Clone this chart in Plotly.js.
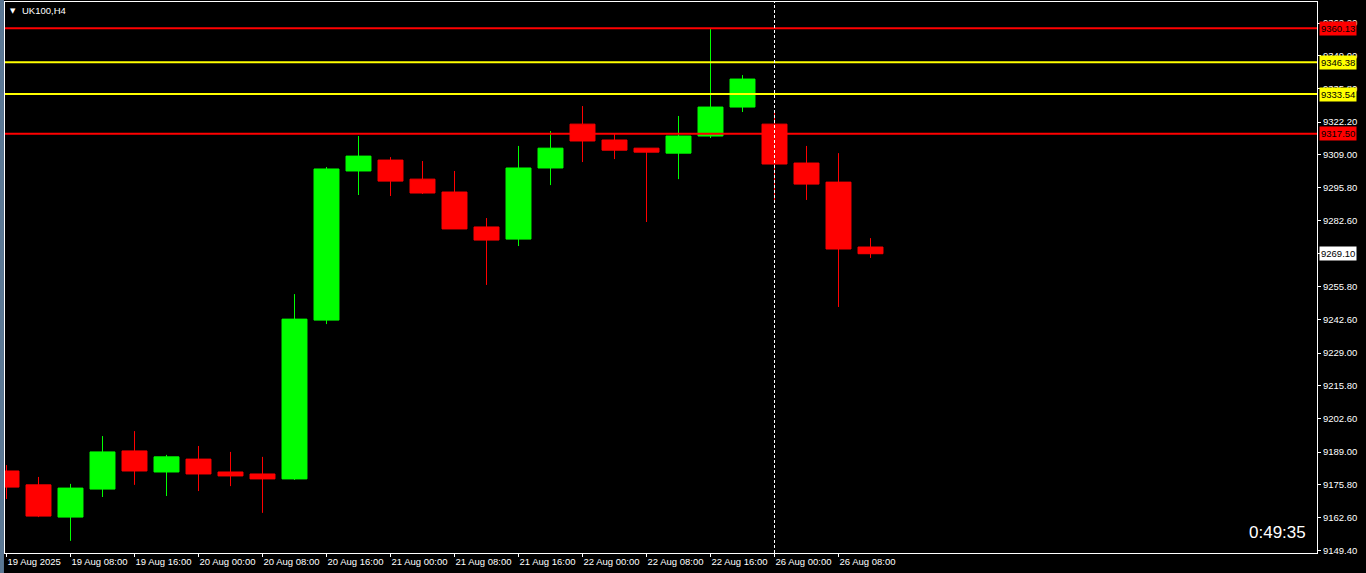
<!DOCTYPE html>
<html>
<head>
<meta charset="utf-8">
<script src="https://cdn.plot.ly/plotly-3.0.1.min.js"></script>
<style>
html,body{margin:0;padding:0;background:#000;}
#chart{width:1366px;height:573px;}
</style>
</head>
<body>
<div id="chart"></div>
<script>
// ---- data ----
var symbol = "UK100,H4";
var countdown = "0:49:35";
var times = [
  "19 Aug 00:00","19 Aug 04:00","19 Aug 08:00","19 Aug 12:00","19 Aug 16:00","19 Aug 20:00",
  "20 Aug 00:00","20 Aug 04:00","20 Aug 08:00","20 Aug 12:00","20 Aug 16:00","20 Aug 20:00",
  "21 Aug 00:00","21 Aug 04:00","21 Aug 08:00","21 Aug 12:00","21 Aug 16:00","21 Aug 20:00",
  "22 Aug 00:00","22 Aug 04:00","22 Aug 08:00","22 Aug 12:00","22 Aug 16:00","22 Aug 20:00",
  "26 Aug 00:00","26 Aug 04:00","26 Aug 08:00","26 Aug 12:00"
];
var open  = [9181.4,9175.8,9162.8,9174.1,9189.5,9181.0,9186.2,9181.0,9180.2,9178.2,9242.3,9302.5,9306.9,9299.2,9294.0,9279.9,9275.0,9303.7,9321.4,9315.0,9311.7,9309.7,9316.6,9328.3,9321.4,9305.7,9298.0,9271.8];
var high  = [9183.8,9179.0,9176.2,9195.5,9197.5,9187.9,9191.5,9189.1,9187.1,9252.8,9304.1,9316.6,9308.1,9306.5,9302.5,9283.5,9312.6,9318.6,9328.7,9317.8,9311.7,9324.7,9360.13,9341.2,9325.9,9312.6,9309.7,9275.4];
var low   = [9170.1,9162.8,9153.2,9170.9,9175.8,9171.3,9173.3,9175.3,9164.5,9177.8,9240.7,9292.8,9292.4,9293.2,9279.1,9256.5,9272.2,9296.8,9306.1,9307.3,9281.9,9299.2,9315.8,9326.3,9289.6,9290.8,9247.6,9267.4];
var close = [9174.9,9163.2,9174.5,9189.1,9181.4,9187.1,9180.2,9179.4,9178.2,9242.7,9303.3,9308.5,9298.4,9293.6,9279.1,9274.6,9303.7,9311.7,9314.6,9310.9,9310.1,9316.6,9328.3,9339.6,9305.3,9297.2,9271.0,9269.1];
var xTickLabels = ["19 Aug 2025","19 Aug 08:00","19 Aug 16:00","20 Aug 00:00","20 Aug 08:00","20 Aug 16:00","21 Aug 00:00","21 Aug 08:00","21 Aug 16:00","22 Aug 00:00","22 Aug 08:00","22 Aug 16:00","26 Aug 00:00","26 Aug 08:00"];
var yTicks = [9149.4,9162.6,9175.8,9189.0,9202.6,9215.8,9229.0,9242.6,9255.8,9269.0,9282.6,9295.8,9309.0,9322.2,9335.8,9349.0,9362.2];
var levelPrices = [9360.13,9346.38,9333.54,9317.50];
var levelKinds  = ["red","yellow","yellow","red"];
var separatorTime = "26 Aug 00:00";

// ---- build ----
var xs = times.map(function(t,i){return i;});
var tickIdx = xTickLabels.map(function(l,k){return k*2;});
var font = "Liberation Sans, Arial, sans-serif";
var lvlColor = {red:"#ff0000", yellow:"#ffff00"};
var last = close[close.length-1];

var trace = {
  type:"candlestick",
  x: xs, open: open, high: high, low: low, close: close,
  increasing:{line:{color:"#00ff00",width:1}, fillcolor:"#00ff00"},
  decreasing:{line:{color:"#ff0000",width:1}, fillcolor:"#ff0000"},
  whiskerwidth:0,
  hoverinfo:"none",
  showlegend:false
};

var shapes = [];
var annotations = [];
levelPrices.forEach(function(p,i){
  shapes.push({type:"line", xref:"paper", yref:"y", x0:0, x1:1, y0:p, y1:p,
    line:{color:lvlColor[levelKinds[i]], width:2}, layer:"above"});
});
var sepIdx = times.indexOf(separatorTime);
shapes.push({type:"line", xref:"x", yref:"paper", x0:sepIdx, x1:sepIdx, y0:0, y1:1,
  line:{color:"#ffffff", width:1, dash:"3px,2px"}, layer:"above"});
// window edge strip
shapes.push({type:"rect", xref:"paper", yref:"paper", x0:-0.0038, x1:-0.0008, y0:-0.04, y1:1.01,
  line:{width:0}, fillcolor:"#5b7894", layer:"above"});

// price labels on axis
function priceLabel(p, bg){
  annotations.push({xref:"paper", yref:"y", x:1, y:p, xanchor:"left", yanchor:"middle",
    xshift:2, text:p.toFixed(2), showarrow:false, bgcolor:bg,
    borderpad:1, font:{family:font, size:9.5, color:"#000000"}});
}
levelPrices.forEach(function(p,i){ priceLabel(p, lvlColor[levelKinds[i]]); });
priceLabel(last, "#ffffff");
// symbol title
annotations.push({xref:"paper", yref:"paper", x:0, y:1, xanchor:"left", yanchor:"top",
  xshift:3, yshift:-3, text:"▼", showarrow:false, font:{family:"DejaVu Sans", size:7, color:"#ffffff"}});
annotations.push({xref:"paper", yref:"paper", x:0, y:1, xanchor:"left", yanchor:"top",
  xshift:15, yshift:-1, text:symbol, showarrow:false, font:{family:font, size:9.5, color:"#ffffff"}});
// countdown
annotations.push({xref:"paper", yref:"paper", x:1, y:0, xanchor:"right", yanchor:"bottom",
  xshift:-9, yshift:9, text:countdown, showarrow:false, font:{family:font, size:17, color:"#ffffff"}});

var layout = {
  width:1366, height:573,
  paper_bgcolor:"#000000", plot_bgcolor:"#000000",
  margin:{l:5, r:49, t:2, b:20},
  boxgap:0.22, boxgroupgap:0,
  showlegend:false,
  xaxis:{
    type:"linear", range:[-0.047, 40.953],
    tickmode:"array", tickvals:tickIdx, ticktext:xTickLabels,
    tickangle:0,
    ticks:"outside", ticklen:3, tickcolor:"#ffffff",
    ticklabelposition:"outside right",
    tickfont:{family:font, size:9.5, color:"#ffffff"},
    showgrid:false, zeroline:false,
    showline:true, linecolor:"#ffffff", linewidth:1, mirror:true,
    rangeslider:{visible:false}, fixedrange:true
  },
  yaxis:{
    side:"right", range:[9148.3, 9370.7],
    tickmode:"array", tickvals:yTicks,
    ticktext:yTicks.map(function(v){return Math.abs(v-last)<1 ? "" : v.toFixed(2);}),
    ticks:"outside", ticklen:3, tickcolor:"#ffffff",
    tickfont:{family:font, size:9.5, color:"#ffffff"},
    showgrid:false, zeroline:false,
    showline:true, linecolor:"#ffffff", linewidth:1, mirror:true,
    fixedrange:true
  },
  shapes:shapes,
  annotations:annotations
};

Plotly.newPlot("chart", [trace], layout, {staticPlot:true, displayModeBar:false});
</script>
</body>
</html>
